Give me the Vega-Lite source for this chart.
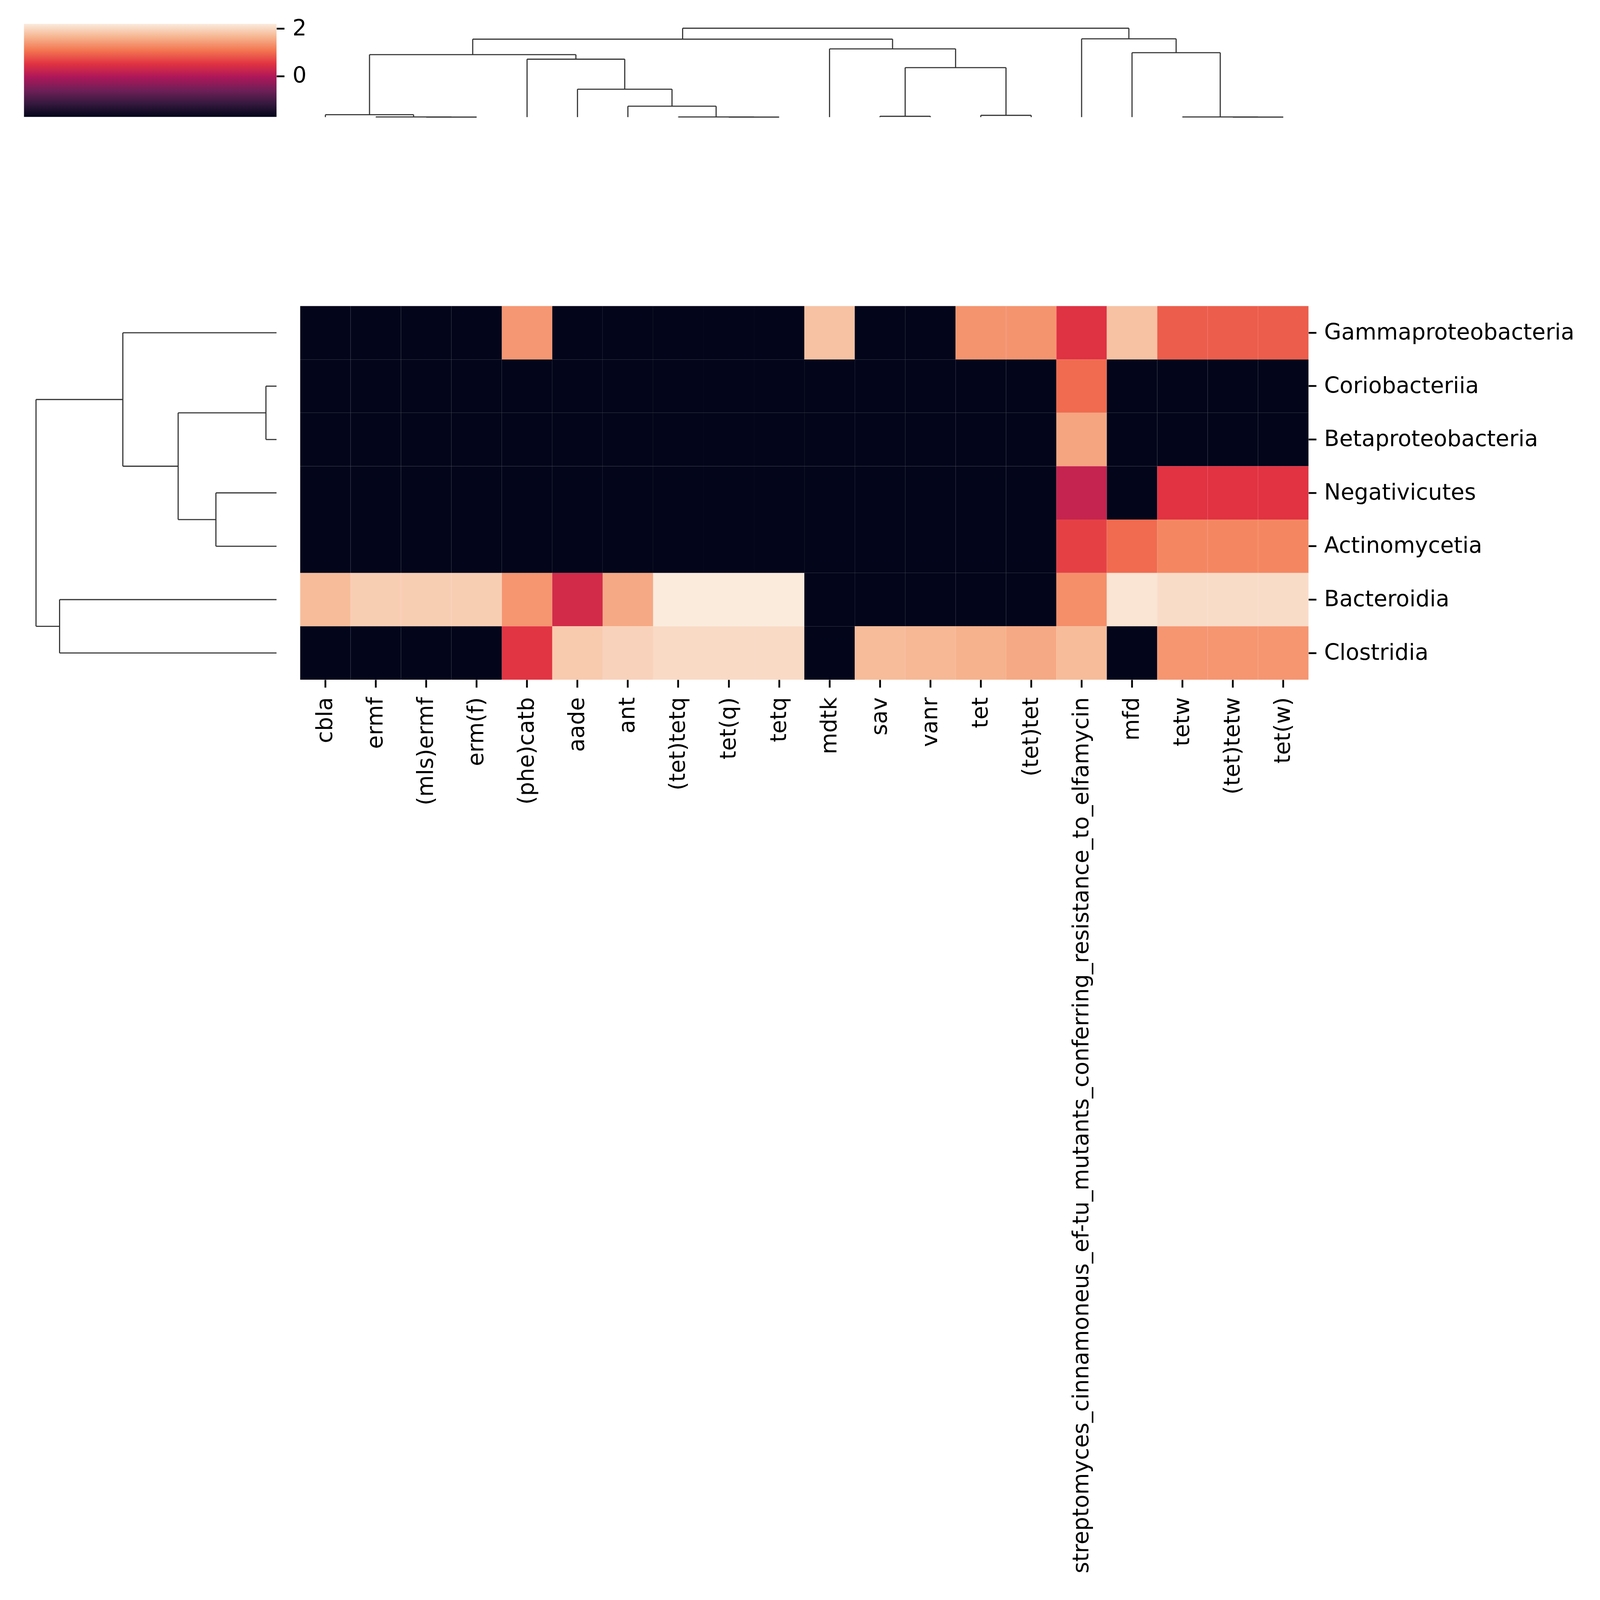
{
  "$schema": "https://vega.github.io/schema/vega-lite/v6.json",
  "background": "white",
  "padding": {"left": 61.4, "top": 44.9, "right": 0, "bottom": 0},
  "config": {
    "view": {"stroke": null},
    "font": "DejaVu Sans",
    "axis": {
      "labelFont": "DejaVu Sans",
      "labelFontSize": 56.66,
      "labelColor": "#000000",
      "tickColor": "#000000",
      "tickWidth": 4.57,
      "tickSize": 19.8,
      "domain": false,
      "grid": false,
      "labelOverlap": false,
      "labelLimit": 4000
    }
  },
  "datasets": {
    "colorbar": [{"lo": -1.72, "hi": 2.2}],
    "col_links": [
      {"x1": 2.5, "x2": 3.5, "h1": 0, "h2": 0, "h": 0},
      {"x1": 1.5, "x2": 3.0, "h1": 0, "h2": 0, "h": 0.002},
      {"x1": 0.5, "x2": 2.25, "h1": 0, "h2": 0.002, "h": 0.027},
      {"x1": 8.5, "x2": 9.5, "h1": 0, "h2": 0, "h": 0},
      {"x1": 7.5, "x2": 9.0, "h1": 0, "h2": 0, "h": 0.002},
      {"x1": 6.5, "x2": 8.25, "h1": 0, "h2": 0.002, "h": 0.123},
      {"x1": 5.5, "x2": 7.375, "h1": 0, "h2": 0.123, "h": 0.314},
      {"x1": 4.5, "x2": 6.4375, "h1": 0, "h2": 0.314, "h": 0.652},
      {"x1": 1.375, "x2": 5.46875, "h1": 0.027, "h2": 0.652, "h": 0.703},
      {"x1": 11.5, "x2": 12.5, "h1": 0, "h2": 0, "h": 0.009},
      {"x1": 13.5, "x2": 14.5, "h1": 0, "h2": 0, "h": 0.02},
      {"x1": 12.0, "x2": 14.0, "h1": 0.009, "h2": 0.02, "h": 0.557},
      {"x1": 10.5, "x2": 13.0, "h1": 0, "h2": 0.557, "h": 0.768},
      {"x1": 3.421875, "x2": 11.75, "h1": 0.703, "h2": 0.768, "h": 0.877},
      {"x1": 18.5, "x2": 19.5, "h1": 0, "h2": 0, "h": 0},
      {"x1": 17.5, "x2": 19.0, "h1": 0, "h2": 0, "h": 0.002},
      {"x1": 16.5, "x2": 18.25, "h1": 0, "h2": 0.002, "h": 0.725},
      {"x1": 15.5, "x2": 17.375, "h1": 0, "h2": 0.725, "h": 0.881},
      {"x1": 7.5859, "x2": 16.4375, "h1": 0.877, "h2": 0.881, "h": 1.0}
    ],
    "row_links": [
      {"y1": 1.5, "y2": 2.5, "h1": 0, "h2": 0, "h": 0.044},
      {"y1": 3.5, "y2": 4.5, "h1": 0, "h2": 0, "h": 0.252},
      {"y1": 2.0, "y2": 4.0, "h1": 0.044, "h2": 0.252, "h": 0.409},
      {"y1": 0.5, "y2": 3.0, "h1": 0, "h2": 0.409, "h": 0.639},
      {"y1": 5.5, "y2": 6.5, "h1": 0, "h2": 0, "h": 0.902},
      {"y1": 1.75, "y2": 6.0, "h1": 0.639, "h2": 0.902, "h": 1.0}
    ],
    "cells": [
      {"taxon": "Gammaproteobacteria", "gene": "cbla", "value": -1.72},
      {"taxon": "Gammaproteobacteria", "gene": "ermf", "value": -1.72},
      {"taxon": "Gammaproteobacteria", "gene": "(mls)ermf", "value": -1.72},
      {"taxon": "Gammaproteobacteria", "gene": "erm(f)", "value": -1.72},
      {"taxon": "Gammaproteobacteria", "gene": "(phe)catb", "value": 1.38},
      {"taxon": "Gammaproteobacteria", "gene": "aade", "value": -1.72},
      {"taxon": "Gammaproteobacteria", "gene": "ant", "value": -1.72},
      {"taxon": "Gammaproteobacteria", "gene": "(tet)tetq", "value": -1.72},
      {"taxon": "Gammaproteobacteria", "gene": "tet(q)", "value": -1.72},
      {"taxon": "Gammaproteobacteria", "gene": "tetq", "value": -1.72},
      {"taxon": "Gammaproteobacteria", "gene": "mdtk", "value": 1.78},
      {"taxon": "Gammaproteobacteria", "gene": "sav", "value": -1.72},
      {"taxon": "Gammaproteobacteria", "gene": "vanr", "value": -1.72},
      {"taxon": "Gammaproteobacteria", "gene": "tet", "value": 1.35},
      {"taxon": "Gammaproteobacteria", "gene": "(tet)tet", "value": 1.35},
      {"taxon": "Gammaproteobacteria", "gene": "streptomyces_cinnamoneus_ef-tu_mutants_conferring_resistance_to_elfamycin", "value": 0.5},
      {"taxon": "Gammaproteobacteria", "gene": "mfd", "value": 1.78},
      {"taxon": "Gammaproteobacteria", "gene": "tetw", "value": 0.87},
      {"taxon": "Gammaproteobacteria", "gene": "(tet)tetw", "value": 0.87},
      {"taxon": "Gammaproteobacteria", "gene": "tet(w)", "value": 0.87},

      {"taxon": "Coriobacteriia", "gene": "cbla", "value": -1.72},
      {"taxon": "Coriobacteriia", "gene": "ermf", "value": -1.72},
      {"taxon": "Coriobacteriia", "gene": "(mls)ermf", "value": -1.72},
      {"taxon": "Coriobacteriia", "gene": "erm(f)", "value": -1.72},
      {"taxon": "Coriobacteriia", "gene": "(phe)catb", "value": -1.72},
      {"taxon": "Coriobacteriia", "gene": "aade", "value": -1.72},
      {"taxon": "Coriobacteriia", "gene": "ant", "value": -1.72},
      {"taxon": "Coriobacteriia", "gene": "(tet)tetq", "value": -1.72},
      {"taxon": "Coriobacteriia", "gene": "tet(q)", "value": -1.72},
      {"taxon": "Coriobacteriia", "gene": "tetq", "value": -1.72},
      {"taxon": "Coriobacteriia", "gene": "mdtk", "value": -1.72},
      {"taxon": "Coriobacteriia", "gene": "sav", "value": -1.72},
      {"taxon": "Coriobacteriia", "gene": "vanr", "value": -1.72},
      {"taxon": "Coriobacteriia", "gene": "tet", "value": -1.72},
      {"taxon": "Coriobacteriia", "gene": "(tet)tet", "value": -1.72},
      {"taxon": "Coriobacteriia", "gene": "streptomyces_cinnamoneus_ef-tu_mutants_conferring_resistance_to_elfamycin", "value": 0.99},
      {"taxon": "Coriobacteriia", "gene": "mfd", "value": -1.72},
      {"taxon": "Coriobacteriia", "gene": "tetw", "value": -1.72},
      {"taxon": "Coriobacteriia", "gene": "(tet)tetw", "value": -1.72},
      {"taxon": "Coriobacteriia", "gene": "tet(w)", "value": -1.72},

      {"taxon": "Betaproteobacteria", "gene": "cbla", "value": -1.72},
      {"taxon": "Betaproteobacteria", "gene": "ermf", "value": -1.72},
      {"taxon": "Betaproteobacteria", "gene": "(mls)ermf", "value": -1.72},
      {"taxon": "Betaproteobacteria", "gene": "erm(f)", "value": -1.72},
      {"taxon": "Betaproteobacteria", "gene": "(phe)catb", "value": -1.72},
      {"taxon": "Betaproteobacteria", "gene": "aade", "value": -1.72},
      {"taxon": "Betaproteobacteria", "gene": "ant", "value": -1.72},
      {"taxon": "Betaproteobacteria", "gene": "(tet)tetq", "value": -1.72},
      {"taxon": "Betaproteobacteria", "gene": "tet(q)", "value": -1.72},
      {"taxon": "Betaproteobacteria", "gene": "tetq", "value": -1.72},
      {"taxon": "Betaproteobacteria", "gene": "mdtk", "value": -1.72},
      {"taxon": "Betaproteobacteria", "gene": "sav", "value": -1.72},
      {"taxon": "Betaproteobacteria", "gene": "vanr", "value": -1.72},
      {"taxon": "Betaproteobacteria", "gene": "tet", "value": -1.72},
      {"taxon": "Betaproteobacteria", "gene": "(tet)tet", "value": -1.72},
      {"taxon": "Betaproteobacteria", "gene": "streptomyces_cinnamoneus_ef-tu_mutants_conferring_resistance_to_elfamycin", "value": 1.5},
      {"taxon": "Betaproteobacteria", "gene": "mfd", "value": -1.72},
      {"taxon": "Betaproteobacteria", "gene": "tetw", "value": -1.72},
      {"taxon": "Betaproteobacteria", "gene": "(tet)tetw", "value": -1.72},
      {"taxon": "Betaproteobacteria", "gene": "tet(w)", "value": -1.72},

      {"taxon": "Negativicutes", "gene": "cbla", "value": -1.72},
      {"taxon": "Negativicutes", "gene": "ermf", "value": -1.72},
      {"taxon": "Negativicutes", "gene": "(mls)ermf", "value": -1.72},
      {"taxon": "Negativicutes", "gene": "erm(f)", "value": -1.72},
      {"taxon": "Negativicutes", "gene": "(phe)catb", "value": -1.72},
      {"taxon": "Negativicutes", "gene": "aade", "value": -1.72},
      {"taxon": "Negativicutes", "gene": "ant", "value": -1.72},
      {"taxon": "Negativicutes", "gene": "(tet)tetq", "value": -1.72},
      {"taxon": "Negativicutes", "gene": "tet(q)", "value": -1.72},
      {"taxon": "Negativicutes", "gene": "tetq", "value": -1.72},
      {"taxon": "Negativicutes", "gene": "mdtk", "value": -1.72},
      {"taxon": "Negativicutes", "gene": "sav", "value": -1.72},
      {"taxon": "Negativicutes", "gene": "vanr", "value": -1.72},
      {"taxon": "Negativicutes", "gene": "tet", "value": -1.72},
      {"taxon": "Negativicutes", "gene": "(tet)tet", "value": -1.72},
      {"taxon": "Negativicutes", "gene": "streptomyces_cinnamoneus_ef-tu_mutants_conferring_resistance_to_elfamycin", "value": 0.21},
      {"taxon": "Negativicutes", "gene": "mfd", "value": -1.72},
      {"taxon": "Negativicutes", "gene": "tetw", "value": 0.52},
      {"taxon": "Negativicutes", "gene": "(tet)tetw", "value": 0.52},
      {"taxon": "Negativicutes", "gene": "tet(w)", "value": 0.52},

      {"taxon": "Actinomycetia", "gene": "cbla", "value": -1.72},
      {"taxon": "Actinomycetia", "gene": "ermf", "value": -1.72},
      {"taxon": "Actinomycetia", "gene": "(mls)ermf", "value": -1.72},
      {"taxon": "Actinomycetia", "gene": "erm(f)", "value": -1.72},
      {"taxon": "Actinomycetia", "gene": "(phe)catb", "value": -1.72},
      {"taxon": "Actinomycetia", "gene": "aade", "value": -1.72},
      {"taxon": "Actinomycetia", "gene": "ant", "value": -1.72},
      {"taxon": "Actinomycetia", "gene": "(tet)tetq", "value": -1.72},
      {"taxon": "Actinomycetia", "gene": "tet(q)", "value": -1.72},
      {"taxon": "Actinomycetia", "gene": "tetq", "value": -1.72},
      {"taxon": "Actinomycetia", "gene": "mdtk", "value": -1.72},
      {"taxon": "Actinomycetia", "gene": "sav", "value": -1.72},
      {"taxon": "Actinomycetia", "gene": "vanr", "value": -1.72},
      {"taxon": "Actinomycetia", "gene": "tet", "value": -1.72},
      {"taxon": "Actinomycetia", "gene": "(tet)tet", "value": -1.72},
      {"taxon": "Actinomycetia", "gene": "streptomyces_cinnamoneus_ef-tu_mutants_conferring_resistance_to_elfamycin", "value": 0.64},
      {"taxon": "Actinomycetia", "gene": "mfd", "value": 0.99},
      {"taxon": "Actinomycetia", "gene": "tetw", "value": 1.23},
      {"taxon": "Actinomycetia", "gene": "(tet)tetw", "value": 1.23},
      {"taxon": "Actinomycetia", "gene": "tet(w)", "value": 1.23},

      {"taxon": "Bacteroidia", "gene": "cbla", "value": 1.72},
      {"taxon": "Bacteroidia", "gene": "ermf", "value": 1.9},
      {"taxon": "Bacteroidia", "gene": "(mls)ermf", "value": 1.9},
      {"taxon": "Bacteroidia", "gene": "erm(f)", "value": 1.9},
      {"taxon": "Bacteroidia", "gene": "(phe)catb", "value": 1.37},
      {"taxon": "Bacteroidia", "gene": "aade", "value": 0.36},
      {"taxon": "Bacteroidia", "gene": "ant", "value": 1.54},
      {"taxon": "Bacteroidia", "gene": "(tet)tetq", "value": 2.2},
      {"taxon": "Bacteroidia", "gene": "tet(q)", "value": 2.2},
      {"taxon": "Bacteroidia", "gene": "tetq", "value": 2.2},
      {"taxon": "Bacteroidia", "gene": "mdtk", "value": -1.72},
      {"taxon": "Bacteroidia", "gene": "sav", "value": -1.72},
      {"taxon": "Bacteroidia", "gene": "vanr", "value": -1.72},
      {"taxon": "Bacteroidia", "gene": "tet", "value": -1.72},
      {"taxon": "Bacteroidia", "gene": "(tet)tet", "value": -1.72},
      {"taxon": "Bacteroidia", "gene": "streptomyces_cinnamoneus_ef-tu_mutants_conferring_resistance_to_elfamycin", "value": 1.31},
      {"taxon": "Bacteroidia", "gene": "mfd", "value": 2.13},
      {"taxon": "Bacteroidia", "gene": "tetw", "value": 2.05},
      {"taxon": "Bacteroidia", "gene": "(tet)tetw", "value": 2.05},
      {"taxon": "Bacteroidia", "gene": "tet(w)", "value": 2.05},

      {"taxon": "Clostridia", "gene": "cbla", "value": -1.72},
      {"taxon": "Clostridia", "gene": "ermf", "value": -1.72},
      {"taxon": "Clostridia", "gene": "(mls)ermf", "value": -1.72},
      {"taxon": "Clostridia", "gene": "erm(f)", "value": -1.72},
      {"taxon": "Clostridia", "gene": "(phe)catb", "value": 0.54},
      {"taxon": "Clostridia", "gene": "aade", "value": 1.86},
      {"taxon": "Clostridia", "gene": "ant", "value": 1.95},
      {"taxon": "Clostridia", "gene": "(tet)tetq", "value": 2.03},
      {"taxon": "Clostridia", "gene": "tet(q)", "value": 2.03},
      {"taxon": "Clostridia", "gene": "tetq", "value": 2.03},
      {"taxon": "Clostridia", "gene": "mdtk", "value": -1.72},
      {"taxon": "Clostridia", "gene": "sav", "value": 1.72},
      {"taxon": "Clostridia", "gene": "vanr", "value": 1.68},
      {"taxon": "Clostridia", "gene": "tet", "value": 1.62},
      {"taxon": "Clostridia", "gene": "(tet)tet", "value": 1.54},
      {"taxon": "Clostridia", "gene": "streptomyces_cinnamoneus_ef-tu_mutants_conferring_resistance_to_elfamycin", "value": 1.72},
      {"taxon": "Clostridia", "gene": "mfd", "value": -1.72},
      {"taxon": "Clostridia", "gene": "tetw", "value": 1.37},
      {"taxon": "Clostridia", "gene": "(tet)tetw", "value": 1.37},
      {"taxon": "Clostridia", "gene": "tet(w)", "value": 1.37}
    ]
  },
  "columns": 2,
  "spacing": {"row": 483.7, "column": 60.1},
  "bounds": "flush",
  "concat": [
    {
      "width": 646.5,
      "height": 238.3,
      "data": {"name": "colorbar"},
      "mark": {
        "type": "rect",
        "stroke": null,
        "fill": {
          "gradient": "linear",
          "x1": 0, "y1": 0, "x2": 0, "y2": 1,
          "stops": [
            {"offset": 0, "color": "#faebdd"},
            {"offset": 0.142857, "color": "#f6b48f"},
            {"offset": 0.285714, "color": "#f37651"},
            {"offset": 0.428571, "color": "#e13342"},
            {"offset": 0.571429, "color": "#ad1759"},
            {"offset": 0.714286, "color": "#701f57"},
            {"offset": 0.857143, "color": "#35193e"},
            {"offset": 1, "color": "#03051a"}
          ]
        }
      },
      "encoding": {
        "x": {"datum": 0, "type": "quantitative", "scale": {"domain": [0, 1], "nice": false}, "axis": null},
        "x2": {"datum": 1},
        "y": {"field": "lo", "type": "quantitative", "scale": {"domain": [-1.72, 2.2], "nice": false, "zero": false}, "axis": {"orient": "right", "values": [0, 2], "labelPadding": 20.5, "title": null}},
        "y2": {"field": "hi"}
      }
    },
    {
      "width": 2581.2,
      "height": 238.9,
      "data": {"name": "col_links"},
      "layer": [
        {
          "mark": {"type": "rule", "color": "#333333", "strokeWidth": 2.87},
          "encoding": {
            "x": {"field": "x1", "type": "quantitative", "scale": {"domain": [0, 20], "nice": false, "zero": false}, "axis": null},
            "y": {"field": "h1", "type": "quantitative", "scale": {"domain": [0, 1.05], "nice": false}, "axis": null},
            "y2": {"field": "h"}
          }
        },
        {
          "mark": {"type": "rule", "color": "#333333", "strokeWidth": 2.87},
          "encoding": {
            "x": {"field": "x2", "type": "quantitative", "scale": {"domain": [0, 20], "nice": false, "zero": false}, "axis": null},
            "y": {"field": "h2", "type": "quantitative", "scale": {"domain": [0, 1.05], "nice": false}, "axis": null},
            "y2": {"field": "h"}
          }
        },
        {
          "mark": {"type": "rule", "color": "#333333", "strokeWidth": 2.87},
          "encoding": {
            "x": {"field": "x1", "type": "quantitative", "scale": {"domain": [0, 20], "nice": false, "zero": false}, "axis": null},
            "x2": {"field": "x2"},
            "y": {"field": "h", "type": "quantitative", "scale": {"domain": [0, 1.05], "nice": false}, "axis": null}
          }
        }
      ]
    },
    {
      "width": 646.5,
      "height": 956.4,
      "data": {"name": "row_links"},
      "layer": [
        {
          "mark": {"type": "rule", "color": "#333333", "strokeWidth": 2.87},
          "encoding": {
            "x": {"field": "h1", "type": "quantitative", "scale": {"domain": [0, 1.05], "nice": false, "reverse": true}, "axis": null},
            "x2": {"field": "h"},
            "y": {"field": "y1", "type": "quantitative", "scale": {"domain": [0, 7], "nice": false, "zero": false, "reverse": true}, "axis": null}
          }
        },
        {
          "mark": {"type": "rule", "color": "#333333", "strokeWidth": 2.87},
          "encoding": {
            "x": {"field": "h2", "type": "quantitative", "scale": {"domain": [0, 1.05], "nice": false, "reverse": true}, "axis": null},
            "x2": {"field": "h"},
            "y": {"field": "y2", "type": "quantitative", "scale": {"domain": [0, 7], "nice": false, "zero": false, "reverse": true}, "axis": null}
          }
        },
        {
          "mark": {"type": "rule", "color": "#333333", "strokeWidth": 2.87},
          "encoding": {
            "x": {"field": "h", "type": "quantitative", "scale": {"domain": [0, 1.05], "nice": false, "reverse": true}, "axis": null},
            "y": {"field": "y1", "type": "quantitative", "scale": {"domain": [0, 7], "nice": false, "zero": false, "reverse": true}, "axis": null},
            "y2": {"field": "y2"}
          }
        }
      ]
    },
    {
      "width": 2581.2,
      "height": 956.4,
      "data": {"name": "cells"},
      "mark": {"type": "rect", "stroke": null},
      "encoding": {
        "x": {"field": "gene", "type": "nominal", "sort": null, "scale": {"paddingInner": 0, "paddingOuter": 0}, "axis": {"orient": "bottom", "labelAngle": 270, "labelPadding": 24.6, "title": null}},
        "y": {"field": "taxon", "type": "nominal", "sort": null, "scale": {"paddingInner": 0, "paddingOuter": 0}, "axis": {"orient": "right", "labelPadding": 19.8, "title": null}},
        "color": {
          "field": "value",
          "type": "quantitative",
          "scale": {
            "domain": [-1.72, -1.16, -0.6, -0.04, 0.52, 1.08, 1.64, 2.2],
            "range": ["#03051a", "#35193e", "#701f57", "#ad1759", "#e13342", "#f37651", "#f6b48f", "#faebdd"],
            "interpolate": "rgb"
          },
          "legend": null
        }
      }
    }
  ]
}
